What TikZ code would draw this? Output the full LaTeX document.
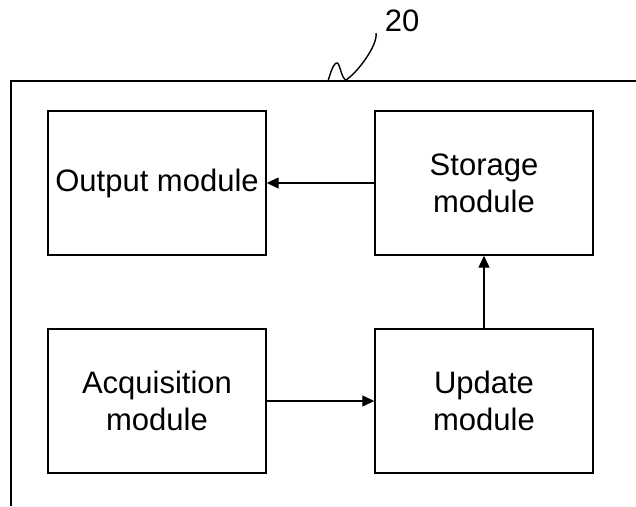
\documentclass[tikz,border=0pt]{standalone}
\usepackage{fontspec}
\setmainfont{Liberation Sans}
\usetikzlibrary{arrows.meta}
\begin{document}
\begin{tikzpicture}[x=1pt,y=-1pt,
  modbox/.style={draw,line width=1.4pt,minimum width=218pt,minimum height=144pt,inner sep=0pt,align=center,font=\fontsize{31}{37}\selectfont},
  arr/.style={line width=1.3pt,-{Triangle[length=12pt,width=11pt]}},
  frame/.style={line width=2pt}]
\useasboundingbox (0,0) rectangle (636,506);
\fill[white] (0,0) rectangle (636,506);
\draw[frame] (636,81) -- (11,81) -- (11,506);
\node[modbox] (out) at (157,183) {Output module};
\node[modbox] (sto) at (484,183) {Storage\\module};
\node[modbox] (acq) at (157,401) {Acquisition\\module};
\node[modbox] (upd) at (484,401) {Update\\module};
\draw[arr] (sto) -- (out);
\draw[arr] (acq) -- (upd);
\draw[arr] (upd) -- (sto);
\node[font=\fontsize{31}{37}\selectfont,inner sep=0pt] (lbl) at (402,21) {20};
\coordinate (lead) at (376,33);
\coordinate (foot) at (328,81);
\draw[line width=1.4pt] (lead) .. controls (378,45) and (358,72) .. (346,80)
  .. controls (341,78) and (340,63) .. (337,63)
  .. controls (333,63) and (330,75) .. (foot);
\end{tikzpicture}
\end{document}
